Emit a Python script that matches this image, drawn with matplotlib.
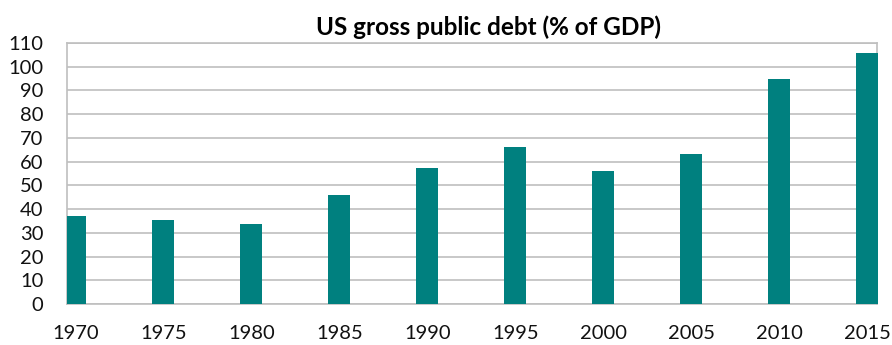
import matplotlib.pyplot as plt

years = [1970, 1975, 1980, 1985, 1990, 1995, 2000, 2005, 2010, 2015]
debt_pct_gdp = [37.1, 35.3, 33.6, 45.9, 57.3, 66.2, 56.0, 63.3, 94.7, 105.9]
y_ticks = list(range(0, 111, 10))

plt.rcParams['font.family'] = ['Lato', 'DejaVu Sans']

fig = plt.figure(figsize=(8.92, 3.45), dpi=100)
ax = fig.add_axes([0.0751, 0.1188, 0.908, 0.7566])

grid_col = '#BFBFBF'
ax.set_axisbelow(True)
ax.yaxis.grid(True, color=grid_col, linewidth=1.2)

# first bar is cut by the left frame in the original, last one is not
bars = ax.bar(years, debt_pct_gdp, width=1.25, color='#00807F', zorder=3)
bars[-1].set_clip_on(False)

ax.set_xlim(1969.52, 2015.54)
ax.set_ylim(0, 110)
ax.set_xticks(years)
ax.set_yticks(y_ticks)
ax.tick_params(axis='both', length=0, labelsize=14.5, colors='#111111')
ax.tick_params(axis='x', pad=15)
ax.tick_params(axis='y', pad=17)

for side in ['left', 'right', 'top', 'bottom']:
    ax.spines[side].set_color(grid_col)
    ax.spines[side].set_linewidth(1.2)

fig.text(0.548, 0.92, 'US gross public debt (% of GDP)', ha='center', va='center',
         fontsize=17.5, fontweight='bold')

fig.savefig('out.png', dpi=100)
